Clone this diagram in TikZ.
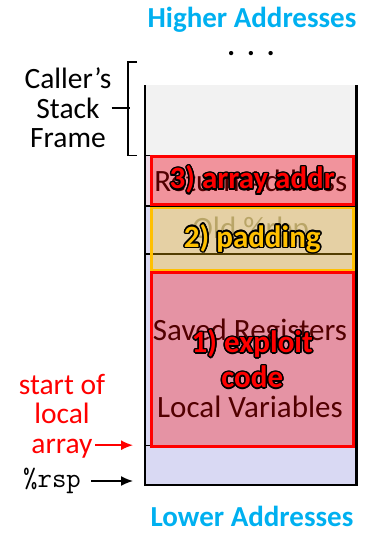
\documentclass[tikz,border=0pt]{standalone}
\usepackage{fontspec}
\setmainfont{Carlito}
\usepackage{contour}
\usepackage{tikz}
\usetikzlibrary{arrows.meta}
\contourlength{1.5pt}

\definecolor{addrblue}{HTML}{00B0F0}
\definecolor{callergray}{HTML}{F2F2F2}
\definecolor{framelav}{HTML}{D9D9F3}
\definecolor{retpink}{HTML}{EBD9E6}
\definecolor{padorange}{HTML}{FFC000}

\tikzstyle{cell}=[anchor=north west, minimum width=211pt, inner sep=0pt,
  font=\fontsize{31}{33}\selectfont]
\tikzstyle{attack}=[anchor=north west, minimum width=202pt, inner sep=0pt,
  line width=2.5pt, fill opacity=0.32, text opacity=1, align=center,
  font=\fontsize{31}{35}\selectfont\bfseries]
\tikzstyle{addr}=[text=addrblue, inner sep=0pt, font=\fontsize{29}{31}\selectfont\bfseries]
\tikzstyle{lbl}=[align=center, inner sep=0pt, font=\fontsize{29.5}{29.5}\selectfont]
\tikzstyle{line}=[draw, line width=1.5pt, -{Latex[length=12pt,width=10pt]},
  shorten >=12pt]
\tikzstyle{brace}=[draw, line width=1.5pt]
\newcommand{\stackcell}[4]{node (#1) [cell, minimum height=#2, fill=#3] {#4}}
\newcommand{\attackbox}[4]{node (#1) [attack, minimum height=#2,
  draw=#3, fill=#3, text=#3] {#4}}

\begin{document}
\begin{tikzpicture}[x=1pt, y=-1pt]
  \useasboundingbox (0,0) rectangle (365,533);

  % Stack cells, top to bottom
  \path (145,85) \stackcell{caller}{70pt}{callergray}{};
  \path (caller.south west) \stackcell{retaddr}{50pt}{retpink}{Return Address};
  \path (retaddr.south west) \stackcell{oldrbp}{48pt}{framelav}{\textcolor{black!40}{Old \%rbp}};
  \path (oldrbp.south west) \stackcell{locals}{191pt}{framelav}{};
  \path (locals.south west) \stackcell{bottom}{39pt}{framelav}{};
  \node[cell, anchor=center] (savedregs) at (250,332) {Saved Registers};
  \node[cell, anchor=center] (localvars) at (250,407) {Local Variables};

  % Separators and the frame outline
  \draw[line width=1.5pt] (caller.south west) -- (caller.south east);
  \draw[line width=1.5pt] (retaddr.south west) -- (retaddr.south east);
  \draw[line width=1.5pt] (oldrbp.south west) -- (oldrbp.south east);
  \draw[line width=1.5pt] (locals.south west) -- (locals.south east);
  \draw[line width=2.5pt] (caller.north west) -- (bottom.south west)
    -- (bottom.south east) -- (caller.north east);

  % What the overflow writes over each cell
  \path ([xshift=5pt]retaddr.north west)
    \attackbox{arraddr}{48pt}{red}{\contour{black}{3) array addr}};
  \path ([xshift=5pt,yshift=-1pt]oldrbp.north west)
    \attackbox{padding}{62pt}{padorange}{\contour{black}{2) padding}};
  \path ([xshift=5pt,yshift=-17pt]locals.north west)
    \attackbox{exploit}{174pt}{red}{\contour{black}{1) exploit}\\\contour{black}{code}};

  % Address direction
  \node[addr] (higher) at (252,20) {Higher Addresses};
  \node[font=\fontsize{29}{30}\selectfont\bfseries] (dots) at (251,54) {.\hspace{12pt}.\hspace{12pt}.};
  \node[addr] (lower) at (252,516) {Lower Addresses};

  % Caller's frame bracket
  \node[lbl] (callerlbl) at (68,108) {Caller’s\\Stack\\Frame};
  \draw[brace] ([xshift=-8pt,yshift=23pt]caller.north west) -- ++(-9,0)
    |- ([xshift=-8pt]caller.south west);
  \draw[brace] (callerlbl.east) -- ++(18,0);

  % Pointers into the frame
  \node[lbl, text=red] (arraylbl) at (62,416) {start of\\local\\array};
  \coordinate (arraytail) at ([xshift=-10pt,yshift=13pt]arraylbl.south east);
  \path[line, red] (arraytail) -- (arraytail -| locals.west);
  \node[inner sep=0pt, font=\fontsize{28}{30}\selectfont\ttfamily] (rsp) at (52,481) {\%rsp};
  \path[line] ([xshift=10pt]rsp.east) -- (rsp.east -| bottom.west);
\end{tikzpicture}
\end{document}
